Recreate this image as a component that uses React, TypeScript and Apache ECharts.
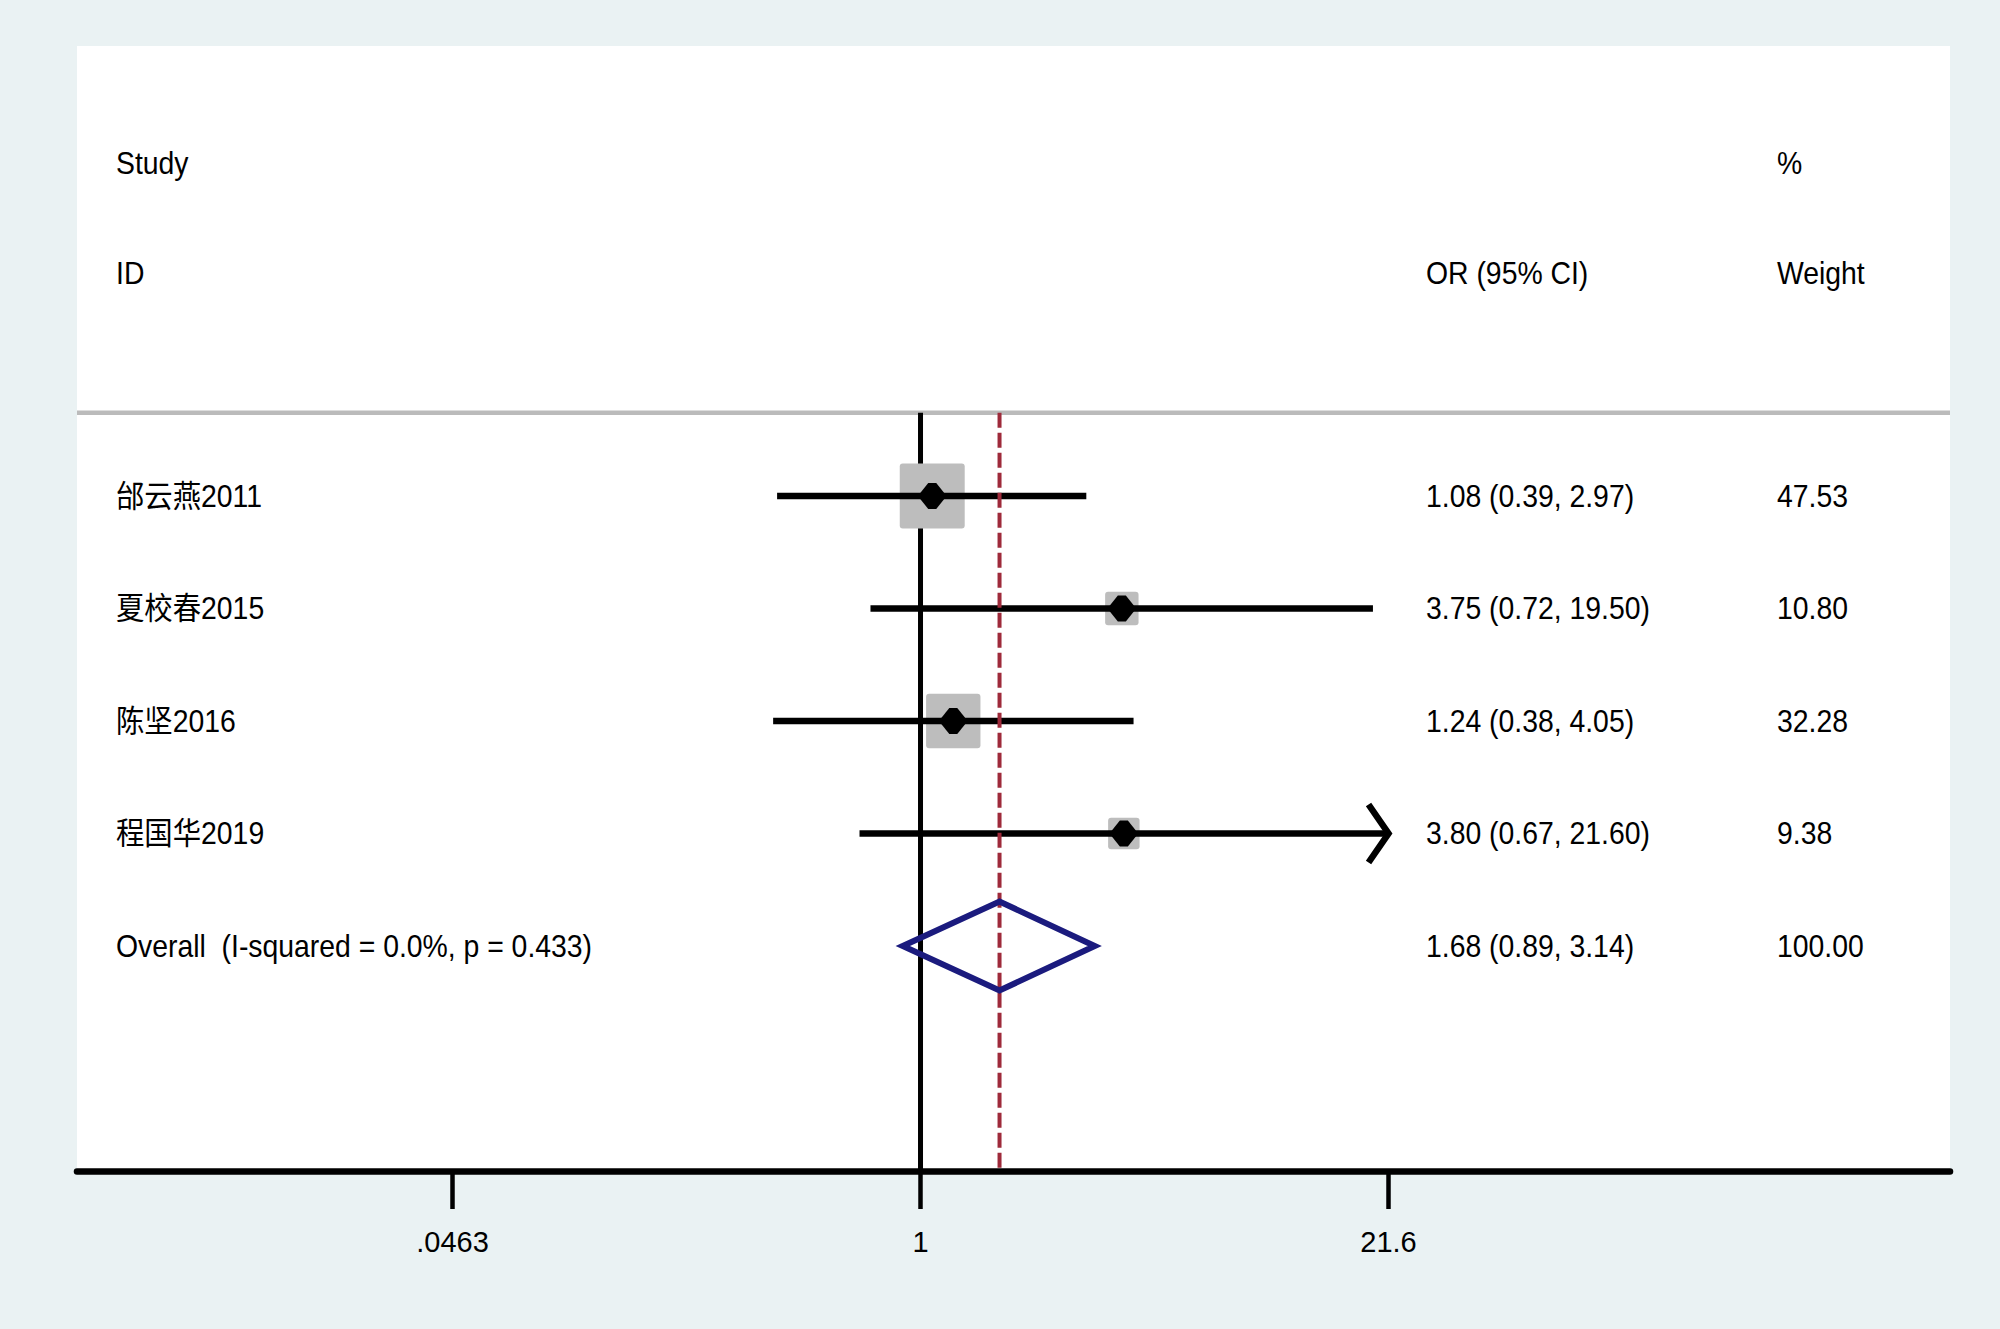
import React, { useEffect, useRef } from 'react';
import * as echarts from 'echarts';

// ---------- data ----------
const studyNames = ['邰云燕2011', '夏校春2015', '陈坚2016', '程国华2019'];
const orValues = [1.08, 3.75, 1.24, 3.8];
const ciLower = [0.39, 0.72, 0.38, 0.67];
const ciUpper = [2.97, 19.5, 4.05, 21.6];
const weights = [47.53, 10.8, 32.28, 9.38];

const overallLabel = 'Overall  (I-squared = 0.0%, p = 0.433)';
const overallOR = 1.68;
const overallLower = 0.89;
const overallUpper = 3.14;
const overallWeight = 100.0;

const tickValues = [0.0463, 1, 21.6];
const tickLabels = ['.0463', '1', '21.6'];

const headerLeft = ['Study', 'ID'];
const headerOR = 'OR (95% CI)';
const headerWeight = ['%', 'Weight'];

// ---------- layout ----------
const FONT = '"Liberation Sans", Arial, "Noto Sans CJK SC", sans-serif';
const FS = 31;
const SX = 0.915;
const XMIN = -5.538;
const XMAX = 6.759;
const COL_NAME = 116;
const COL_OR = 1426;
const COL_W = 1777;
const HEADER_LINE_Y = 0.26;

const fmt = (v: number) => v.toFixed(2);

export default function App() {
  const ref = useRef<HTMLDivElement>(null);

  useEffect(() => {
    document.body.style.margin = '0';
    if (!ref.current) return;
    const chart = echarts.init(ref.current, undefined, { renderer: 'svg' });

    const lnTicks = tickValues.map((v) => Math.log(v));
    const clipMax = tickValues[tickValues.length - 1];

    const studyData = studyNames.map((n, i) => [
      Math.log(orValues[i]),
      i + 1,
      Math.log(ciLower[i]),
      Math.log(Math.min(ciUpper[i], clipMax)),
      weights[i],
      i,
    ]);

    const textEl = (x: number, y: number, text: string) => ({
      type: 'text',
      x,
      y,
      scaleX: SX,
      style: {
        x: 0,
        y: 0,
        text,
        fill: '#000',
        fontSize: FS,
        fontFamily: FONT,
        align: 'left',
        verticalAlign: 'middle',
      },
    });

    const option: any = {
      animation: false,
      backgroundColor: '#EAF2F3',
      grid: {
        left: 77,
        right: 50,
        top: 46,
        bottom: 158,
        show: true,
        backgroundColor: '#ffffff',
        borderWidth: 0,
      },
      xAxis: {
        type: 'value',
        min: XMIN,
        max: XMAX,
        splitLine: { show: false },
        axisLine: { show: true, onZero: false, lineStyle: { color: '#000', width: 6.5, cap: 'round' } },
        axisTick: {
          show: true,
          customValues: lnTicks,
          length: 38,
          lineStyle: { color: '#000', width: 4.5 },
        },
        axisLabel: {
          show: true,
          customValues: lnTicks,
          margin: 56,
          color: '#000',
          fontSize: 29,
          fontFamily: FONT,
          formatter: (v: number) => {
            let best = 0;
            lnTicks.forEach((t, i) => {
              if (Math.abs(t - v) < Math.abs(lnTicks[best] - v)) best = i;
            });
            return tickLabels[best];
          },
        },
      },
      yAxis: {
        type: 'value',
        min: -3,
        max: 7,
        inverse: true,
        show: false,
      },
      graphic: [
        textEl(COL_NAME, 163, headerLeft[0]),
        textEl(COL_NAME, 273, headerLeft[1]),
        textEl(COL_OR, 273, headerOR),
        textEl(COL_W, 163, headerWeight[0]),
        textEl(COL_W, 273, headerWeight[1]),
      ],
      series: [
        {
          type: 'custom',
          name: 'reference',
          z: 1,
          clip: false,
          data: [[0, 0]],
          renderItem: (params: any, api: any) => {
            const l0 = api.coord([XMIN, HEADER_LINE_Y]);
            const l1 = api.coord([XMAX, HEADER_LINE_Y]);
            const v0 = api.coord([0, HEADER_LINE_Y]);
            const v1 = api.coord([0, 7]);
            return {
              type: 'group',
              children: [
                {
                  type: 'line',
                  shape: { x1: l0[0], y1: l0[1], x2: l1[0], y2: l1[1] },
                  style: { stroke: '#BBBBBB', lineWidth: 4.5 },
                },
                {
                  type: 'line',
                  shape: { x1: v0[0], y1: v0[1], x2: v1[0], y2: v1[1] },
                  style: { stroke: '#000', lineWidth: 5 },
                },
              ],
            };
          },
        },
        {
          type: 'custom',
          name: 'studies',
          z: 2,
          clip: false,
          data: studyData,
          renderItem: (params: any, api: any) => {
            const est = api.value(0);
            const row = api.value(1);
            const lo = api.value(2);
            const hi = api.value(3);
            const w = api.value(4);
            const idx = api.value(5);
            const c = api.coord([est, row]);
            const pLo = api.coord([lo, row]);
            const pHi = api.coord([hi, row]);
            const size = 4.7 + 8.74 * Math.sqrt(w);
            const children: any[] = [
              {
                type: 'rect',
                shape: { x: c[0] - size / 2, y: c[1] - size / 2, width: size, height: size, r: 3 },
                style: { fill: '#BDBDBD' },
              },
              {
                type: 'line',
                shape: { x1: pLo[0], y1: pLo[1], x2: pHi[0], y2: pHi[1] },
                style: { stroke: '#000', lineWidth: 6.5 },
              },
              {
                type: 'polygon',
                shape: {
                  points: [
                    [c[0] - 12, c[1] - 3],
                    [c[0] - 4, c[1] - 13],
                    [c[0] + 4, c[1] - 13],
                    [c[0] + 12, c[1] - 3],
                    [c[0] + 12, c[1] + 3],
                    [c[0] + 4, c[1] + 13],
                    [c[0] - 4, c[1] + 13],
                    [c[0] - 12, c[1] + 3],
                  ],
                },
                style: { fill: '#000' },
              },
            ];
            if (ciUpper[idx] >= clipMax) {
              children.push({
                type: 'polyline',
                shape: {
                  points: [
                    [pHi[0] - 20, pHi[1] - 29],
                    [pHi[0], pHi[1]],
                    [pHi[0] - 20, pHi[1] + 29],
                  ],
                },
                style: { stroke: '#000', lineWidth: 6.5, fill: null },
              });
            }
            children.push(textEl(COL_NAME, c[1], studyNames[idx]));
            children.push(
              textEl(COL_OR, c[1], `${fmt(orValues[idx])} (${fmt(ciLower[idx])}, ${fmt(ciUpper[idx])})`)
            );
            children.push(textEl(COL_W, c[1], fmt(weights[idx])));
            return { type: 'group', children };
          },
        },
        {
          type: 'custom',
          name: 'overall',
          z: 3,
          clip: false,
          data: [[Math.log(overallOR), 5, Math.log(overallLower), Math.log(overallUpper)]],
          renderItem: (params: any, api: any) => {
            const est = api.value(0);
            const row = api.value(1);
            const lo = api.value(2);
            const hi = api.value(3);
            const top = api.coord([est, row - 0.395]);
            const bot = api.coord([est, row + 0.395]);
            const left = api.coord([lo, row]);
            const right = api.coord([hi, row]);
            const d0 = api.coord([est, HEADER_LINE_Y]);
            const d1 = api.coord([est, 7]);
            return {
              type: 'group',
              children: [
                {
                  type: 'line',
                  shape: { x1: d0[0], y1: d0[1], x2: d1[0], y2: d1[1] },
                  style: { stroke: '#9E2A3A', lineWidth: 4, lineDash: [15, 5] },
                },
                {
                  type: 'polygon',
                  shape: { points: [left, top, right, bot] },
                  style: { stroke: '#1B1B7E', lineWidth: 6, fill: null, lineJoin: 'miter' },
                },
                textEl(COL_NAME, left[1], overallLabel),
                textEl(
                  COL_OR,
                  left[1],
                  `${fmt(overallOR)} (${fmt(overallLower)}, ${fmt(overallUpper)})`
                ),
                textEl(COL_W, left[1], fmt(overallWeight)),
              ],
            };
          },
        },
      ],
    };

    chart.setOption(option);
    return () => chart.dispose();
  }, []);

  return <div ref={ref} style={{ width: 2000, height: 1329 }} />;
}
